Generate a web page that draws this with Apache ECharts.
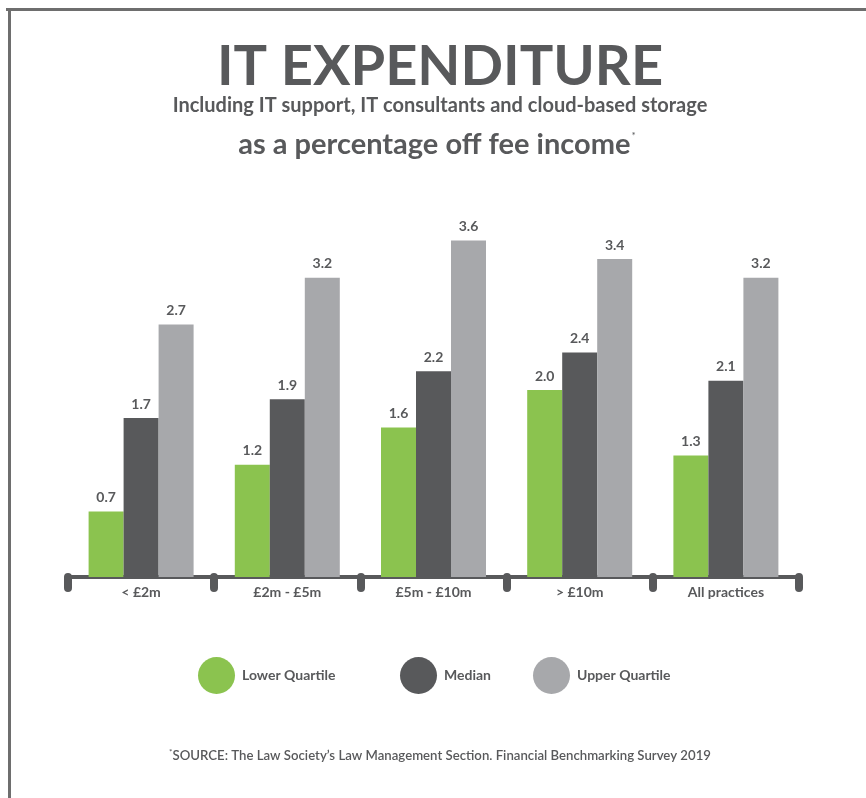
<!DOCTYPE html>
<html>
<head>
<meta charset="utf-8">
<script src="https://cdn.jsdelivr.net/npm/echarts@6/dist/echarts.min.js"></script>
<style>
  html, body { margin: 0; padding: 0; background: #fff; }
  #chart { width: 866px; height: 798px; }
</style>
</head>
<body>
<div id="chart"></div>
<script>
// data
const categories = ['< £2m', '£2m - £5m', '£5m - £10m', '> £10m', 'All practices'];
const lowerQuartile = [0.7, 1.2, 1.6, 2.0, 1.3];
const median = [1.7, 1.9, 2.2, 2.4, 2.1];
const upperQuartile = [2.7, 3.2, 3.6, 3.4, 3.2];

const GREEN = '#8bc34f';
const DARK = '#58595b';
const LIGHT = '#a7a8ab';
const TEXT = '#58595b';
const FONT = 'Lato, "Open Sans", sans-serif';

const chart = echarts.init(document.getElementById('chart'));

function barSeries(name, data, color) {
    return {
        name: name,
        type: 'bar',
        data: data,
        barWidth: 35,
        barGap: '0%',
        itemStyle: { color: color },
        label: {
            show: true,
            position: 'top',
            distance: 7,
            formatter: p => p.value.toFixed(1),
            color: TEXT,
            fontFamily: FONT,
            fontWeight: 'bold',
            fontSize: 14
        }
    };
}

function legendFor(name, left) {
    return {
        data: [name],
        left: left,
        top: 652,
        icon: 'circle',
        itemWidth: 37,
        itemHeight: 37,
        selectedMode: false,
        textStyle: {
            color: TEXT,
            fontFamily: FONT,
            fontWeight: 'bold',
            fontSize: 14,
            padding: [0, 0, 0, 2]
        }
    };
}

const option = {
    animation: false,
    backgroundColor: '#fff',
    grid: { left: 68, right: 67, top: 203, bottom: 221 },
    xAxis: {
        type: 'category',
        data: categories,
        axisLine: { lineStyle: { color: DARK, width: 4 } },
        axisTick: { show: true, length: 11, lineStyle: { color: DARK, width: 8, cap: 'round' } },
        axisLabel: {
            margin: 8,
            color: TEXT,
            fontFamily: FONT,
            fontWeight: 'bold',
            fontSize: 14
        }
    },
    yAxis: {
        type: 'value',
        min: 0,
        max: 4,
        show: false,
        splitLine: { show: false }
    },
    legend: [
        legendFor('Lower Quartile', 193),
        legendFor('Median', 395),
        legendFor('Upper Quartile', 528)
    ],
    series: [
        barSeries('Lower Quartile', lowerQuartile, GREEN),
        barSeries('Median', median, DARK),
        barSeries('Upper Quartile', upperQuartile, LIGHT)
    ],
    graphic: [
        // frame lines on top and left
        { type: 'rect', shape: { x: 6, y: 8, width: 860, height: 3 }, style: { fill: '#6e6e6e' } },
        { type: 'rect', shape: { x: 8, y: 8, width: 3, height: 790 }, style: { fill: '#6e6e6e' } },
        {
            type: 'text', x: 440, y: 67,
            style: {
                text: 'IT EXPENDITURE', align: 'center', verticalAlign: 'middle',
                fill: TEXT, font: 'bold 56px ' + FONT
            }
        },
        {
            type: 'text', x: 440, y: 106,
            style: {
                text: 'Including IT support, IT consultants and cloud-based storage',
                align: 'center', verticalAlign: 'middle',
                fill: TEXT, font: 'bold 20px ' + FONT
            }
        },
        {
            type: 'text', x: 437, y: 145,
            style: {
                text: '{a|as a percentage off fee income}{s|*}',
                align: 'center', verticalAlign: 'middle',
                rich: {
                    a: { fill: TEXT, fontFamily: FONT, fontWeight: 'bold', fontSize: 29 },
                    s: { fill: TEXT, fontFamily: FONT, fontSize: 10, verticalAlign: 'top', padding: [0, 0, 16, 1] }
                }
            }
        },
        {
            type: 'text', x: 440, y: 756,
            style: {
                text: '{s|*}{a|SOURCE: The Law Society\u2019s Law Management Section. Financial Benchmarking Survey 2019}',
                align: 'center', verticalAlign: 'middle',
                rich: {
                    a: { fill: TEXT, fontFamily: FONT, fontWeight: 600, fontSize: 13.2 },
                    s: { fill: TEXT, fontFamily: FONT, fontSize: 8, padding: [0, 0, 8, 0] }
                }
            }
        }
    ]
};

chart.setOption(option);
</script>
</body>
</html>
